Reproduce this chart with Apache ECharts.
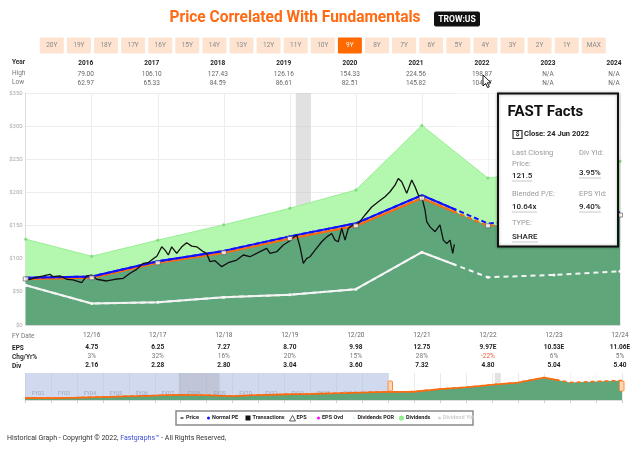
<!DOCTYPE html>
<html><head><meta charset="utf-8">
<script src="https://cdn.jsdelivr.net/npm/echarts@6/dist/echarts.min.js"></script>
<style>html,body{margin:0;padding:0;background:#fff;}#c{width:640px;height:449px;}</style>
</head><body><div id="c"></div>
<script>
// ---------- data ----------
const fyYears = [2015,2016,2017,2018,2019,2020,2021,2022,2023,2024];
const fyLabels = ['12/16','12/17','12/18','12/19','12/20','12/21','12/22','12/23','12/24'];
const epsLabels = ['4.75','6.25','7.27','8.70','9.98','12.75','9.97E','10.53E','11.06E'];
const chgLabels = ['3%','32%','16%','20%','15%','28%','-22%','6%','5%'];
const divLabels = ['2.16','2.28','2.80','3.04','3.60','7.32','4.80','5.04','5.40'];
const tableYears = ['2016','2017','2018','2019','2020','2021','2022','2023','2024'];
const highs = ['79.00','106.10','127.43','126.16','154.33','224.56','198.87','N/A','N/A'];
const lows  = ['62.97','65.33','84.59','86.61','82.51','145.82','104.57','N/A','N/A'];
const earningsLine = [69.5,71.3,93.8,109.1,130.5,149.7,191.3,149.6,158.0,165.9];
const normalPELine = [71.3,73.1,96.1,111.8,133.7,153.4,195.8,153.2,161.8,170.0];
const dividendLine = [60.0,32.4,34.2,42.0,45.6,54.0,109.8,72.0,75.6,81.0];
const dividendTop  = [129.5,103.7,128.0,151.1,176.1,203.7,301.1,221.6,233.6,246.9];
const priceT = [0.000,0.065,0.167,0.267,0.368,0.413,0.519,0.621,0.716,0.848,0.924,1.000,1.075,1.227,1.352,1.478,1.580,1.681,1.781,1.852,1.932,1.989,2.060,2.110,2.160,2.211,2.287,2.363,2.438,2.514,2.590,2.690,2.741,2.791,2.867,2.968,3.068,3.196,3.296,3.397,3.548,3.650,3.700,3.801,3.901,4.002,4.053,4.104,4.154,4.204,4.256,4.306,4.382,4.483,4.559,4.634,4.684,4.734,4.786,4.836,4.886,4.961,5.037,5.139,5.240,5.340,5.441,5.517,5.593,5.643,5.694,5.770,5.846,5.896,5.946,5.997,6.047,6.073,6.123,6.199,6.274,6.324,6.376,6.426,6.467,6.491];
const priceV = [68,69,72,74,76.5,73,74,69,68,64,74,75.4,69,66.4,69,70.4,78,84,93,94,100,104,118,113,105.6,118,108,118,124,119,118,110.6,108,95.5,97,88,94,98,105.6,103,110.6,115.6,108,110.6,120.7,127,132,135.7,118,93,100.5,103,113,125.6,133,138,128,125.6,146,128,146,151,153,166,178,186,193.6,201,211,221,216,198.6,218.7,208.6,196,193.6,173.5,156,148,140.7,151,128,123,128,108,121.5];
const priceStart = 2015;
const today = 2021.49;
const recession = [2019.09, 2019.32];
const navYears = [2001,2002,2003,2004,2005,2006,2007,2008,2009,2010,2011,2012,2013,2014,2015,2016,2017,2018,2019,2020,2021,2022,2023,2024];
const navVals  = [18,16,20,26,32,38,45,40,34,42,48,52,58,64,69.5,71.3,93.8,109.1,130.5,149.7,191.3,149.6,158,165.9];
const navLabels = ['FY02','FY03','FY04','FY05','FY06','FY07','FY08','FY09','FY10','FY11','FY12','FY13','FY14','FY15','FY16','FY17','FY18','FY19','FY20','FY21','FY22','FY23','FY24'];
const navRecessions = [[2006.92,2008.5],[2019.1,2019.33]];
const buttons = ['20Y','19Y','18Y','17Y','16Y','15Y','14Y','13Y','12Y','11Y','10Y','9Y','8Y','7Y','6Y','5Y','4Y','3Y','2Y','1Y','MAX'];
const selectedButton = '9Y';

// ---------- helpers ----------
const F = 'Roboto, "Noto Sans", sans-serif';
const pair = (xs, ys) => xs.map((x, i) => [x, ys[i]]);
const idxLabel = (arr) => (v) => { const i = Math.round(v) - 2016; return i >= 0 && i < arr.length ? arr[i] : ''; };
function mainX(extra) {
  return Object.assign({type:'value', gridIndex:0, min:2015, max:2024, interval:1,
    axisTick:{show:false}, axisLine:{show:false}, splitLine:{show:false}}, extra);
}
const priceData = priceT.map((t, i) => [priceStart + t, priceV[i]]);

// ---------- graphic ----------
const g = [];
g.push({type:'text', x:295, y:18, scaleX:0.91, z:50, style:{text:'Price Correlated With Fundamentals', font:'bold 17px ' + F, fill:'#ff6a13', textAlign:'center', textVerticalAlign:'middle'}});
g.push({type:'rect', shape:{x:434, y:11.5, width:46, height:15, r:2}, style:{fill:'#111'}, z:50});
g.push({type:'text', x:457, y:19.5, scaleX:0.9, z:51, style:{text:'TROW:US', font:'bold 9.5px ' + F, fill:'#fff', textAlign:'center', textVerticalAlign:'middle'}});
buttons.forEach((b, i) => {
  const sel = b === selectedButton;
  const x = 39.8 + i * 27.1;
  g.push({type:'rect', shape:{x:x, y:37.5, width:24, height:16, r:1}, style:{fill: sel ? '#ff6a00' : '#fde3d0'}, z:50});
  g.push({type:'text', x:x + 12, y:45.5, z:51, style:{text:b, font:'6.5px ' + F, fill: sel ? '#fff' : '#8a8a8a', textAlign:'center', textVerticalAlign:'middle'}});
});
[['Year',62,'bold','#333'],['High',73,'normal','#777'],['Low',82,'normal','#777'],
 ['FY Date',336,'normal','#777'],['EPS',348,'bold','#222'],['Chg/Yr%',357,'bold','#333'],['Div',366,'bold','#222']]
.forEach(r => g.push({type:'text', x:12, y:r[1], z:50, style:{text:r[0], font:r[2] + ' 6.5px ' + F, fill:r[3], textVerticalAlign:'middle'}}));

// FAST Facts box
g.push({type:'rect', shape:{x:498, y:93.5, width:120, height:153}, style:{fill:'#fff', stroke:'#111', lineWidth:2, shadowBlur:3, shadowColor:'rgba(0,0,0,0.3)'}, z:60});
const ff = (t, x, y, font, fill) => g.push({type:'text', x:x, y:y, z:61, style:{text:t, font:font + ' ' + F, fill:fill, textVerticalAlign:'middle'}});
ff('FAST Facts', 507.5, 112, 'bold 15px', '#111');
g.push({type:'rect', shape:{x:513, y:130.5, width:9, height:8}, style:{fill:'#fff', stroke:'#333', lineWidth:1.2}, z:61});
g.push({type:'text', x:517.5, y:134.7, z:62, style:{text:'$', font:'bold 6.5px ' + F, fill:'#222', textAlign:'center', textVerticalAlign:'middle'}});
ff('Close: 24 Jun 2022', 524, 134.5, 'bold 7.5px', '#222');
ff('Last Closing', 512, 152.7, '7.5px', '#9a9a9a');
ff('Price:', 512, 163.7, '7.5px', '#9a9a9a');
ff('121.5', 512, 176, '500 8px', '#222');
ff('Div Yld:', 579, 152.7, '7.5px', '#9a9a9a');
ff('3.95%', 579, 173, '500 8px', '#222');
ff('Blended P/E:', 512, 194, '7.5px', '#9a9a9a');
ff('10.64x', 512, 206.7, '500 8px', '#222');
ff('EPS Yld:', 579, 194, '7.5px', '#9a9a9a');
ff('9.40%', 579, 206.7, '500 8px', '#222');
ff('TYPE:', 512, 223, '7.5px', '#9a9a9a');
ff('SHARE', 512, 237, '500 8px', '#222');
[[512,532,181],[579,601,178],[512,537,212],[579,601,212],[512,538,242]].forEach(u =>
  g.push({type:'line', shape:{x1:u[0], y1:u[2], x2:u[1], y2:u[2]}, style:{stroke:'#c8c8c8', lineWidth:1}, z:61}));

// cursor
g.push({type:'polygon', x:483, y:75, z:70, shape:{points:[[0,0],[0,11],[2.6,8.4],[4.6,12.6],[6.3,11.8],[4.4,7.8],[8,7.8]]}, style:{fill:'#fff', stroke:'#000', lineWidth:0.9}});

// navigator handles
[388, 619.5].forEach(x => g.push({type:'rect', shape:{x:x, y:381, width:4.5, height:10, r:1}, style:{fill:'#ffd7b5', stroke:'#ff8a3d', lineWidth:1}, z:60}));

// legend
g.push({type:'rect', shape:{x:176, y:411, width:297, height:14}, style:{fill:'#fff', stroke:'#8a8a8a', lineWidth:1.5}, z:50});
const lt = (t, x, fill) => g.push({type:'text', x:x, y:418, z:51, style:{text:t, font:'bold 5.5px ' + F, fill:fill, textVerticalAlign:'middle'}});
g.push({type:'line', shape:{x1:180.5, y1:418, x2:183.5, y2:418}, style:{stroke:'#111', lineWidth:1.2}, z:51});
lt('Price', 186, '#222');
g.push({type:'circle', shape:{cx:208.5, cy:418, r:1.5}, style:{fill:'#1010ff'}, z:51});
lt('Normal PE', 212, '#222');
g.push({type:'rect', shape:{x:245.5, y:415.5, width:5, height:5}, style:{fill:'#111'}, z:51});
lt('Transactions', 252.5, '#222');
g.push({type:'polygon', shape:{points:[[289.5,421],[292.5,415.5],[295.5,421]]}, style:{fill:'#fff', stroke:'#333', lineWidth:0.8}, z:51});
lt('EPS', 296.5, '#222');
g.push({type:'circle', shape:{cx:318.5, cy:418, r:1.5}, style:{fill:'#ff00ff'}, z:51});
lt('EPS Ovd', 322, '#222');
g.push({type:'circle', shape:{cx:354, cy:418, r:1.5}, style:{fill:'#e2f8e0'}, z:51});
lt('Dividends POR', 357.5, '#222');
g.push({type:'circle', shape:{cx:401.5, cy:418, r:2.6}, style:{fill:'#90ee90'}, z:51});
lt('Dividends', 406, '#222');
g.push({type:'circle', shape:{cx:439.5, cy:418, r:1.5}, style:{fill:'#d5d5d5'}, z:51});
lt('Dividend Yld', 443, '#cfcfcf');

// footer
g.push({type:'text', x:7, y:438.5, z:50, style:{text:'Historical Graph - Copyright © 2022, {b|Fastgraphs™} - All Rights Reserved,', font:'7px ' + F, fill:'#333', textVerticalAlign:'middle', rich:{b:{fill:'#3b4fd8', font:'7px ' + F}}}});

// ---------- option ----------
const option = {
  animation:false,
  backgroundColor:'#fff',
  textStyle:{fontFamily:F},
  grid:[
    {left:25.7, right:20, top:93, bottom:124},
    {left:25.7, right:640 - (25.7 + (today - 2015) * (594.3 / 9)), top:93, bottom:124},
    {left:25, right:18, top:373, bottom:49},
    {left:25, right:640 - (25 + (today - 2001) * (597 / 23)), top:373, bottom:49}
  ],
  xAxis:[
    mainX({position:'bottom', axisLine:{show:true, lineStyle:{color:'#d8d8d8'}}, splitLine:{show:true, lineStyle:{color:'#ececec'}},
      axisLabel:{formatter:idxLabel(fyLabels), fontSize:6.5, color:'#666', margin:7, showMinLabel:true, showMaxLabel:true}}),
    mainX({position:'bottom', offset:12, axisLabel:{formatter:idxLabel(epsLabels), fontSize:6.5, fontWeight:'bold', color:'#222', margin:7, showMaxLabel:true}}),
    mainX({position:'bottom', offset:21, axisLabel:{formatter:(v) => { const s = idxLabel(chgLabels)(v); return s.charAt(0) === '-' ? '{n|' + s + '}' : s; },
      fontSize:6.5, color:'#777', margin:7, showMaxLabel:true, rich:{n:{color:'#e8603c', fontSize:6.5}}}}),
    mainX({position:'bottom', offset:30, axisLabel:{formatter:idxLabel(divLabels), fontSize:6.5, fontWeight:'bold', color:'#222', margin:7, showMaxLabel:true}}),
    mainX({position:'top', offset:0, axisLabel:{formatter:idxLabel(lows), fontSize:6.5, color:'#666', margin:6, padding:[0,12,0,0], showMaxLabel:true}}),
    mainX({position:'top', offset:9, axisLabel:{formatter:idxLabel(highs), fontSize:6.5, color:'#666', margin:6, padding:[0,12,0,0], showMaxLabel:true}}),
    mainX({position:'top', offset:20, axisLabel:{formatter:idxLabel(tableYears), fontSize:6.5, fontWeight:'bold', color:'#222', margin:6, padding:[0,12,0,0], showMaxLabel:true}}),
    {type:'value', gridIndex:1, min:2015, max:today, show:false},
    {type:'value', gridIndex:2, min:2001, max:2024, interval:1, axisLabel:{show:false}, axisTick:{show:false}, axisLine:{show:false},
      splitLine:{show:true, lineStyle:{color:'rgba(225,225,225,0.7)'}}},
    {type:'category', gridIndex:2, data:navLabels, boundaryGap:true, position:'bottom',
      axisLabel:{inside:true, fontSize:5.5, color:'#8a93a0', margin:3, interval:0},
      axisTick:{show:true, length:3, interval:0, lineStyle:{color:'#ccc'}}, axisLine:{show:true, lineStyle:{color:'#ddd'}}, splitLine:{show:false}},
    {type:'value', gridIndex:3, min:2001, max:today, show:false}
  ],
  yAxis:[
    {type:'value', gridIndex:0, min:0, max:350, interval:50,
      axisLabel:{formatter:(v) => '$' + v, fontSize:6, color:'#aaa', margin:3},
      axisLine:{show:true, lineStyle:{color:'#dcdcdc'}}, axisTick:{show:false}, splitLine:{lineStyle:{color:'#ececec'}}},
    {type:'value', gridIndex:1, min:0, max:350, show:false},
    {type:'value', gridIndex:2, min:0, max:230, show:false},
    {type:'value', gridIndex:3, min:0, max:230, show:false}
  ],
  series:[
    {type:'line', xAxisIndex:0, yAxisIndex:0, data:[], z:1, silent:true,
      markArea:{silent:true, itemStyle:{color:'rgba(205,205,205,0.6)'}, data:[[{xAxis:recession[0]},{xAxis:recession[1]}]]}},
    {name:'Dividends POR', type:'line', xAxisIndex:0, yAxisIndex:0, data:pair(fyYears, dividendTop), z:2,
      symbol:'circle', symbolSize:3, itemStyle:{color:'#7fdc7a'}, lineStyle:{color:'#98ee94', width:1}, areaStyle:{color:'#b4f7ae', opacity:1}},
    {name:'Earnings', type:'line', xAxisIndex:0, yAxisIndex:0, data:pair(fyYears, earningsLine), z:3,
      symbol:'none', lineStyle:{width:0}, areaStyle:{color:'#5fa67b', opacity:1}},
    {type:'line', xAxisIndex:0, yAxisIndex:0, data:[], z:4, silent:true,
      markArea:{silent:true, itemStyle:{color:'rgba(255,255,255,0.37)'}, data:[[{xAxis:today},{xAxis:2024}]]}},
    {type:'line', xAxisIndex:0, yAxisIndex:0, data:pair(fyYears, dividendLine), z:5,
      symbol:'circle', symbolSize:3, itemStyle:{color:'#fff'}, lineStyle:{color:'#f4f4f4', width:2, type:[5,4]}},
    {type:'line', xAxisIndex:7, yAxisIndex:1, data:pair(fyYears, dividendLine), z:6, symbol:'none', lineStyle:{color:'#f4f4f4', width:2}},
    {type:'line', xAxisIndex:0, yAxisIndex:0, data:pair(fyYears, earningsLine), z:7, symbol:'none', lineStyle:{color:'#ff6a10', width:2, type:[5,3]}},
    {type:'line', xAxisIndex:7, yAxisIndex:1, data:pair(fyYears, earningsLine), z:7, symbol:'none', lineStyle:{color:'#ff6a10', width:2}},
    {type:'line', xAxisIndex:0, yAxisIndex:0, data:pair(fyYears, normalPELine), z:8, symbol:'none', lineStyle:{color:'#1010ff', width:2, type:[5,3]}},
    {type:'line', xAxisIndex:7, yAxisIndex:1, data:pair(fyYears, normalPELine), z:8, symbol:'none', lineStyle:{color:'#1010ff', width:2}},
    {name:'Price', type:'line', xAxisIndex:0, yAxisIndex:0, data:priceData, z:9, symbol:'none', lineStyle:{color:'#111', width:1.3}},
    {type:'scatter', xAxisIndex:0, yAxisIndex:0, data:pair(fyYears, earningsLine), z:10, symbol:'rect', symbolSize:[5,4],
      itemStyle:{color:'#fff', borderColor:'#555', borderWidth:0.8}},
    // navigator
    {type:'line', xAxisIndex:8, yAxisIndex:2, data:pair(navYears, navVals), z:2, symbol:'none', lineStyle:{width:0}, areaStyle:{color:'#5fa67b', opacity:1}},
    {type:'line', xAxisIndex:8, yAxisIndex:2, data:[], z:3, silent:true,
      markArea:{silent:true, itemStyle:{color:'rgba(255,255,255,0.42)'}, data:[[{xAxis:today},{xAxis:2024}]]}},
    {type:'line', xAxisIndex:8, yAxisIndex:2, data:pair(navYears, navVals), z:4, symbol:'none', lineStyle:{color:'#ff6a10', width:1.6, type:[4,3]}},
    {type:'line', xAxisIndex:10, yAxisIndex:3, data:pair(navYears, navVals), z:4, symbol:'none', lineStyle:{color:'#ff6a10', width:1.6}},
    {type:'line', xAxisIndex:8, yAxisIndex:2, data:[], z:5, silent:true,
      markArea:{silent:true, data:[
        [{xAxis:2001, itemStyle:{color:'rgba(170,185,222,0.55)'}},{xAxis:2015}],
        [{xAxis:navRecessions[0][0], itemStyle:{color:'rgba(150,150,160,0.28)'}},{xAxis:navRecessions[0][1]}],
        [{xAxis:navRecessions[1][0], itemStyle:{color:'rgba(190,190,190,0.45)'}},{xAxis:navRecessions[1][1]}]
      ]}}
  ],
  graphic:g
};
const chart = echarts.init(document.getElementById('c'), null, {renderer:'canvas'});
chart.setOption(option);
</script></body></html>
